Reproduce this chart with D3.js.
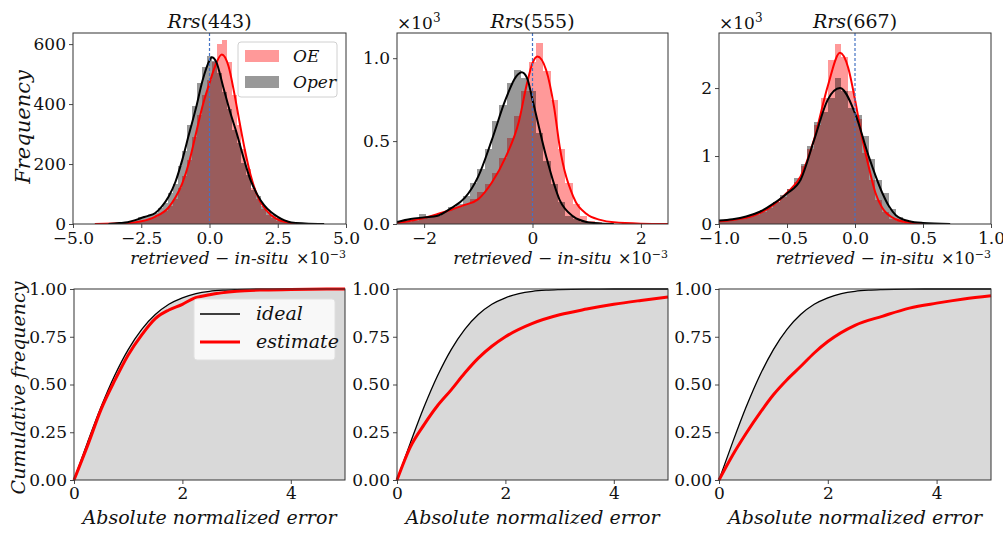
<!DOCTYPE html>
<html><head><meta charset="utf-8">
<script src="https://cdn.jsdelivr.net/npm/d3@7"></script>
<style>
body{margin:0;background:#fff}
text{font-family:"DejaVu Serif",serif;fill:#111}
.it{font-style:italic}
</style></head><body>
<svg id="fig" width="1003" height="534"></svg>
<script>
// bands
var bands = ["443", "555", "667"];

// histogram bins: start, width (x in units of 1e-3)
var binStart = [-3.15, -2.5, -1.0];
var binWidth = [0.18, 0.135, 0.05];

// histogram counts, OE (red) and Oper (gray)
var oeHist443 = [2,3,5,8,12,18,24,32,45,60,85,120,160,215,290,365,430,480,540,600,615,540,430,330,250,185,120,85,50,30,20,10,6,3,2];
var operHist443 = [6,10,14,22,26,30,38,55,70,105,135,195,245,330,395,470,525,560,545,505,440,385,315,270,205,165,115,92,60,40,30,20,12,6,3];
var oeHist555 = [0.01,0.015,0.02,0.03,0.04,0.05,0.07,0.09,0.10,0.12,0.15,0.19,0.24,0.31,0.40,0.52,0.65,0.80,0.98,1.09,0.92,0.75,0.45,0.25,0.12,0.05,0.02,0.01,0.005,0.002];
var operHist555 = [0.01,0.02,0.03,0.06,0.04,0.05,0.07,0.10,0.12,0.17,0.25,0.33,0.45,0.62,0.72,0.85,0.93,0.88,0.80,0.55,0.38,0.24,0.13,0.05,0.03,0.01,0.005,0,0,0];
var oeHist667 = [0.04,0.05,0.06,0.08,0.10,0.13,0.18,0.24,0.32,0.40,0.52,0.62,0.85,1.10,1.45,1.85,2.42,2.65,2.45,1.95,1.55,1.05,0.65,0.35,0.18,0.08,0.04,0.02,0.01,0.005];
var operHist667 = [0.05,0.06,0.08,0.10,0.12,0.16,0.20,0.25,0.33,0.42,0.52,0.68,0.88,1.15,1.50,1.65,1.85,2.15,1.95,1.70,1.60,1.30,0.95,0.65,0.45,0.22,0.10,0.05,0.02,0.01];

// kde curves [x, y]
var oeKde443 = [[-4.2,0],[-3.5,2],[-3,3],[-2.5,9],[-2,24],[-1.5,55],[-1.25,88],[-1,135],[-0.75,205],[-0.5,300],[-0.25,395],[0,470],[0.2,525],[0.45,565],[0.7,525],[0.9,440],[1.1,340],[1.3,245],[1.5,165],[1.75,95],[2,55],[2.25,30],[2.5,15],[2.75,7],[3,3],[3.3,0]];
var operKde443 = [[-3.7,0],[-3.3,3],[-3,6],[-2.75,12],[-2.5,20],[-2.25,27],[-2,36],[-1.75,58],[-1.5,91],[-1.25,140],[-1,213],[-0.75,300],[-0.5,385],[-0.25,480],[0,545],[0.08,556],[0.25,540],[0.5,458],[0.75,375],[1,302],[1.25,220],[1.5,147],[1.75,98],[2,63],[2.25,40],[2.5,24],[2.75,12],[3,5],[3.5,2],[4.2,0]];
var oeKde555 = [[-2.5,0.008],[-2.25,0.02],[-2,0.036],[-1.75,0.06],[-1.5,0.086],[-1.25,0.115],[-1,0.15],[-0.75,0.25],[-0.5,0.4],[-0.25,0.62],[-0.1,0.85],[0,0.97],[0.09,1.01],[0.25,0.93],[0.4,0.7],[0.5,0.47],[0.75,0.166],[1,0.06],[1.25,0.025],[1.5,0.01],[2,0.002],[2.5,0]];
var operKde555 = [[-2.5,0.012],[-2.25,0.03],[-2,0.04],[-1.75,0.05],[-1.5,0.096],[-1.25,0.157],[-1,0.287],[-0.75,0.507],[-0.5,0.748],[-0.3,0.89],[-0.2,0.915],[-0.1,0.88],[0,0.75],[0.25,0.41],[0.5,0.146],[0.75,0.046],[1,0.012],[1.25,0.003],[1.5,0]];
var oeKde667 = [[-1,0.04],[-0.9,0.06],[-0.8,0.09],[-0.7,0.16],[-0.6,0.28],[-0.5,0.46],[-0.4,0.7],[-0.3,1.25],[-0.2,2.03],[-0.11,2.52],[-0.05,2.3],[0,1.83],[0.05,1.29],[0.1,0.85],[0.15,0.46],[0.2,0.24],[0.3,0.07],[0.4,0.02],[0.5,0]];
var operKde667 = [[-1,0.05],[-0.9,0.07],[-0.8,0.11],[-0.7,0.18],[-0.6,0.3],[-0.5,0.45],[-0.4,0.65],[-0.3,1.24],[-0.2,1.83],[-0.11,2.0],[0,1.63],[0.1,1.0],[0.2,0.46],[0.25,0.26],[0.3,0.13],[0.4,0.04],[0.5,0.015],[0.7,0]];

// cumulative curves, x = absolute normalized error
var idealCdf = [[0,0],[0.25,0.197],[0.5,0.383],[0.75,0.547],[1,0.683],[1.25,0.789],[1.5,0.866],[1.75,0.92],[2,0.954],[2.25,0.976],[2.5,0.988],[2.75,0.994],[3,0.997],[3.5,0.9995],[4,1],[5,1]];
var estCdf443 = [[0,0],[0.25,0.18],[0.5,0.37],[0.75,0.52],[1,0.655],[1.25,0.76],[1.5,0.845],[1.75,0.89],[2,0.92],[2.2,0.95],[2.5,0.97],[3,0.988],[3.5,0.995],[4,0.998],[5,1]];
var estCdf555 = [[0,0],[0.25,0.175],[0.5,0.29],[0.75,0.39],[1,0.472],[1.25,0.56],[1.5,0.638],[1.75,0.7],[2,0.75],[2.5,0.82],[3,0.865],[3.5,0.895],[4,0.92],[4.5,0.94],[5,0.958]];
var estCdf667 = [[0,0],[0.25,0.13],[0.5,0.245],[0.75,0.35],[1,0.446],[1.25,0.525],[1.5,0.594],[1.75,0.665],[2,0.725],[2.5,0.81],[3,0.857],[3.5,0.9],[4,0.926],[4.5,0.948],[5,0.965]];

// axis settings
var xDomTop = [[-5,5],[-2.5,2.5],[-1,1]];
var yDomTop = [[0,637],[0,1.152],[0,2.81]];
var xTicksTop = [[-5,-2.5,0,2.5,5],[-2,0,2],[-1,-0.5,0,0.5,1]];
var yTicksTop = [[0,200,400,600],[0,0.5,1.0],[0,1,2]];
var xFmtTop = [".1f","d",".1f"];
var yFmtTop = ["d",".1f","d"];
var cdfTicksX = [0,2,4];
var cdfTicksY = [0,0.25,0.5,0.75,1];

var oeHists = [oeHist443, oeHist555, oeHist667];
var operHists = [operHist443, operHist555, operHist667];
var oeKdes = [oeKde443, oeKde555, oeKde667];
var operKdes = [operKde443, operKde555, operKde667];
var estCdfs = [estCdf443, estCdf555, estCdf667];

var panelX = [[73,346],[397,668],[719,991]];
var panelXb = [[74,345],[397,668],[719,991]];
var topY = [33,224], botY = [289,480];

var svg = d3.select("#fig");
var defs = svg.append("defs");

function axisStyle(g){
  g.selectAll("path").remove();
  g.selectAll("line").attr("stroke","#333").attr("stroke-width",0.9);
  g.selectAll("text").style("font-size","17px").attr("fill","#111");
}

function frame(x0,x1,y0,y1){
  svg.append("rect").attr("x",x0).attr("y",y0).attr("width",x1-x0).attr("height",y1-y0)
    .attr("fill","none").attr("stroke","#333").attr("stroke-width",1);
}

bands.forEach(function(b,i){
  // ---------- top: histograms ----------
  var x = d3.scaleLinear().domain(xDomTop[i]).range(panelX[i]);
  var y = d3.scaleLinear().domain(yDomTop[i]).range([topY[1],topY[0]]);
  var clipId = "clip"+i;
  defs.append("clipPath").attr("id",clipId).append("rect")
    .attr("x",panelX[i][0]).attr("y",topY[0])
    .attr("width",panelX[i][1]-panelX[i][0]).attr("height",topY[1]-topY[0]);
  var g = svg.append("g").attr("clip-path","url(#"+clipId+")");

  [[oeHists[i],"rgba(255,0,0,0.4)"],[operHists[i],"rgba(0,0,0,0.4)"]].forEach(function(h){
    g.selectAll(null).data(h[0]).enter().append("rect")
      .attr("x",function(d,k){ return x(binStart[i]+k*binWidth[i]); })
      .attr("width",function(d,k){ return x(binStart[i]+(k+1)*binWidth[i])-x(binStart[i]+k*binWidth[i]); })
      .attr("y",function(d){ return y(d); })
      .attr("height",function(d){ return y(0)-y(d); })
      .attr("fill",h[1])
      .attr("shape-rendering","crispEdges");
  });

  var line = d3.line().x(function(d){return x(d[0]);}).y(function(d){return y(d[1]);}).curve(d3.curveMonotoneX);
  g.append("path").datum(oeKdes[i]).attr("d",line).attr("fill","none").attr("stroke","#ff0000").attr("stroke-width",2);
  g.append("path").datum(operKdes[i]).attr("d",line).attr("fill","none").attr("stroke","#000").attr("stroke-width",2);

  // zero line
  svg.append("line").attr("x1",x(0)).attr("x2",x(0)).attr("y1",topY[0]).attr("y2",topY[1])
    .attr("stroke","#4472c4").attr("stroke-width",1.2).attr("stroke-dasharray","3,2");

  frame(panelX[i][0],panelX[i][1],topY[0],topY[1]);
  svg.append("g").attr("transform","translate(0,"+topY[1]+")")
    .call(d3.axisBottom(x).tickValues(xTicksTop[i]).tickFormat(d3.format(xFmtTop[i])).tickSize(4).tickPadding(4))
    .call(axisStyle);
  svg.append("g").attr("transform","translate("+panelX[i][0]+",0)")
    .call(d3.axisLeft(y).tickValues(yTicksTop[i]).tickFormat(d3.format(yFmtTop[i])).tickSize(4).tickPadding(3))
    .call(axisStyle);

  // title
  var cx = (panelX[i][0]+panelX[i][1])/2;
  var t = svg.append("text").attr("x",cx).attr("y",28).attr("text-anchor","middle").style("font-size","19px");
  t.append("tspan").attr("class","it").text("Rrs");
  t.append("tspan").text("("+b+")");

  // x label
  svg.append("text").attr("class","it").attr("x",cx).attr("y",264).attr("text-anchor","middle")
    .style("font-size","17px").text("retrieved \u2212 in-situ");
  var ox = svg.append("text").attr("x",panelX[i][1]).attr("y",264).attr("text-anchor","end").style("font-size","16px");
  ox.append("tspan").text("\u00d710");
  ox.append("tspan").attr("dy",-6).style("font-size","11px").text("\u22123");
  if(i>0){
    var oy = svg.append("text").attr("x",panelX[i][0]).attr("y",29).style("font-size","17px");
    oy.append("tspan").text("\u00d710");
    oy.append("tspan").attr("dy",-7).style("font-size","12px").text("3");
  }

  // ---------- bottom: cumulative ----------
  var xb = d3.scaleLinear().domain([0,5]).range(panelXb[i]);
  var yb = d3.scaleLinear().domain([0,1]).range([botY[1],botY[0]]);
  var area = d3.area().x(function(d){return xb(d[0]);}).y0(yb(0)).y1(function(d){return yb(d[1]);}).curve(d3.curveMonotoneX);
  var lb = d3.line().x(function(d){return xb(d[0]);}).y(function(d){return yb(d[1]);}).curve(d3.curveMonotoneX);
  svg.append("path").datum(idealCdf).attr("d",area).attr("fill","#d9d9d9");
  svg.append("path").datum(idealCdf).attr("d",lb).attr("fill","none").attr("stroke","#000").attr("stroke-width",1.3);
  svg.append("path").datum(estCdfs[i]).attr("d",lb).attr("fill","none").attr("stroke","#ff0000").attr("stroke-width",3);
  frame(panelXb[i][0],panelXb[i][1],botY[0],botY[1]);
  svg.append("g").attr("transform","translate(0,"+botY[1]+")")
    .call(d3.axisBottom(xb).tickValues(cdfTicksX).tickFormat(d3.format("d")).tickSize(4).tickPadding(3))
    .call(axisStyle);
  svg.append("g").attr("transform","translate("+panelXb[i][0]+",0)")
    .call(d3.axisLeft(yb).tickValues(cdfTicksY).tickFormat(d3.format(".2f")).tickSize(4).tickPadding(3))
    .call(axisStyle);
  svg.append("text").attr("class","it").attr("x",(panelXb[i][0]+panelXb[i][1])/2).attr("y",524)
    .attr("text-anchor","middle").style("font-size","19px").text("Absolute normalized error");
});

// y labels
svg.append("text").attr("class","it").attr("transform","translate(30,127) rotate(-90)")
  .attr("text-anchor","middle").style("font-size","21px").text("Frequency");
svg.append("text").attr("class","it").attr("transform","translate(25,388) rotate(-90)")
  .attr("text-anchor","middle").style("font-size","19px").text("Cumulative frequency");

// legend top
var lg = svg.append("g");
lg.append("rect").attr("x",238).attr("y",42).attr("width",99).attr("height",55).attr("rx",3)
  .attr("fill","rgba(255,255,255,0.8)").attr("stroke","#d0d0d0");
lg.append("rect").attr("x",245).attr("y",50).attr("width",34).attr("height",12).attr("fill","rgba(255,0,0,0.4)");
lg.append("rect").attr("x",245).attr("y",76).attr("width",34).attr("height",12).attr("fill","rgba(0,0,0,0.4)");
lg.append("text").attr("class","it").attr("x",293).attr("y",62).style("font-size","17px").text("OE");
lg.append("text").attr("class","it").attr("x",293).attr("y",88).style("font-size","17px").text("Oper");

// legend bottom
var lb2 = svg.append("g");
lb2.append("rect").attr("x",194).attr("y",299).attr("width",141).attr("height",61).attr("rx",3)
  .attr("fill","rgba(255,255,255,0.8)").attr("stroke","#e0e0e0");
lb2.append("line").attr("x1",200).attr("x2",240).attr("y1",314).attr("y2",314).attr("stroke","#000").attr("stroke-width",1.3);
lb2.append("line").attr("x1",200).attr("x2",240).attr("y1",342).attr("y2",342).attr("stroke","#ff0000").attr("stroke-width",3);
lb2.append("text").attr("class","it").attr("x",256).attr("y",320).style("font-size","19px").text("ideal");
lb2.append("text").attr("class","it").attr("x",256).attr("y",348).style("font-size","19px").text("estimate");
</script>
</body></html>
